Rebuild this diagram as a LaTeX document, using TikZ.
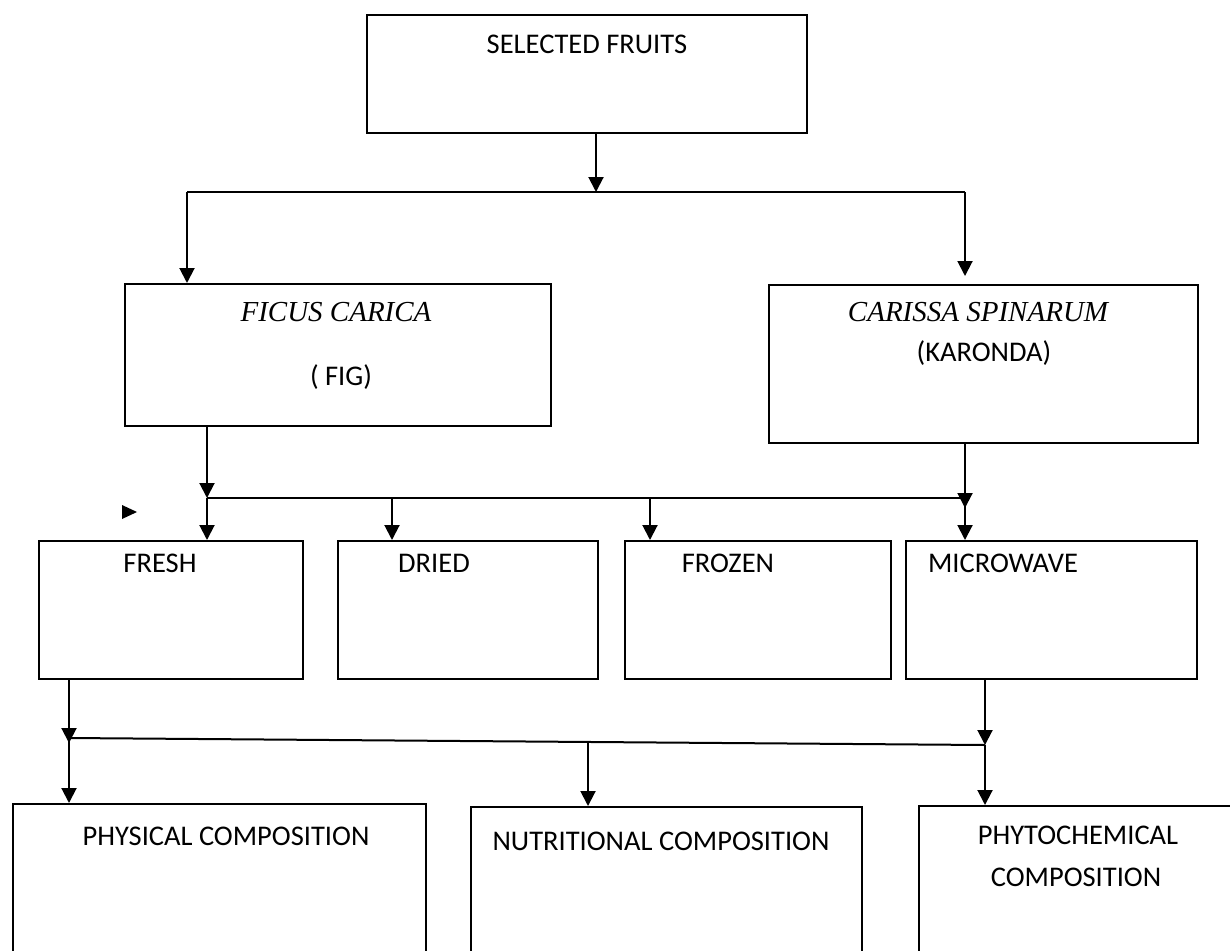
\documentclass[tikz,border=0pt]{standalone}
\usepackage{fontspec}
\setmainfont{Carlito}
\newfontfamily\latinname{Liberation Serif}
\usetikzlibrary{arrows.meta,calc}
\begin{document}
\begin{tikzpicture}[x=1pt,y=-1pt,
  box/.style={draw, line width=1.8pt, inner sep=0pt, anchor=north west},
  lbl/.style={inner sep=0pt, font=\fontsize{28.5}{34}\selectfont},
  ital/.style={inner sep=0pt, font=\latinname\itshape\fontsize{29}{34}\selectfont},
  link/.style={line width=2pt},
  arr/.style={line width=2pt, -{Triangle[width=15pt,length=15pt]}}]
\clip (0,0) rectangle (1230,950);
\fill[white] (0,0) rectangle (1230,950);

% boxes
\node[box, minimum width=440pt, minimum height=118pt] (sel) at (366,14) {};
\node[box, minimum width=426pt, minimum height=142pt] (fig) at (124,283) {};
\node[box, minimum width=429pt, minimum height=158pt] (kar) at (768,284) {};
\node[box, minimum width=264pt, minimum height=138pt] (fresh) at (38,540) {};
\node[box, minimum width=260pt, minimum height=138pt] (dried) at (337,540) {};
\node[box, minimum width=266pt, minimum height=138pt] (frozen) at (624,540) {};
\node[box, minimum width=291pt, minimum height=138pt] (micro) at (905,540) {};
\node[box, minimum width=413pt, minimum height=170pt] (phys) at (12,803) {};
\node[box, minimum width=391pt, minimum height=170pt] (nutr) at (470,806) {};
\node[box, minimum width=330pt, minimum height=170pt] (phyto) at (918,805) {};

% texts
\node[lbl] (selT) at (587,44) {SELECTED FRUITS};
\node[ital] (figT) at (336,312) {FICUS CARICA};
\node[lbl] (figN) at (341,377) {( FIG)};
\node[ital] (karT) at (978,312) {CARISSA SPINARUM};
\node[lbl] (karN) at (984,353) {(KARONDA)};
\node[lbl] (freshT) at (160,563) {FRESH};
\node[lbl] (driedT) at (434,563) {DRIED};
\node[lbl] (frozenT) at (728,563) {FROZEN};
\node[lbl] (microT) at (1003,563) {MICROWAVE};
\node[lbl] (physT) at (226,836) {PHYSICAL COMPOSITION};
\node[lbl] (nutrT) at (661,841) {NUTRITIONAL COMPOSITION};
\node[lbl] (phytoT) at (1078,835) {PHYTOCHEMICAL};
\node[lbl] (phytoT2) at (1076,877) {COMPOSITION};

% stray marker
\fill (122,505) -- (137,512) -- (122,519) -- cycle;

% first split
\coordinate (jTop) at (596,192);
\coordinate (jL) at (187,192);
\coordinate (jR) at (965,192);
\coordinate (jRend) at (965,276);
\draw[link] (jL) -- (jR);
\draw[arr] (sel.south -| jTop) -- (jTop);
\draw[arr] (jL) -- (fig.north -| jL);
\draw[arr] (jR) -- (jRend);

% second split
\coordinate (m1) at (207,498);
\coordinate (m2) at (392,498);
\coordinate (m3) at (650,498);
\coordinate (m4) at (965,498);
\coordinate (m4b) at (965,508);
\draw[link] (m1) -- (m4);
\draw[arr] (fig.south -| m1) -- (m1);
\draw[arr] (kar.south -| m4) -- (m4b);
\draw[arr] (m1) -- (fresh.north -| m1);
\draw[arr] (m2) -- (dried.north -| m2);
\draw[arr] (m3) -- (frozen.north -| m3);
\draw[arr] (m4) -- (micro.north -| m4);

% third split
\coordinate (b1) at (69,738);
\coordinate (b1t) at (69,743);
\coordinate (b3) at (985,745);
\coordinate (b2) at ($(b1)!0.5666!(b3)$);
\draw[link] (b1) -- (b3);
\draw[arr] (fresh.south -| b1) -- (b1t);
\draw[arr] (micro.south -| b3) -- (b3);
\draw[arr] (b1) -- (phys.north -| b1);
\draw[arr] (b2) -- (nutr.north -| b2);
\draw[arr] (b3) -- (phyto.north -| b3);
\end{tikzpicture}
\end{document}
